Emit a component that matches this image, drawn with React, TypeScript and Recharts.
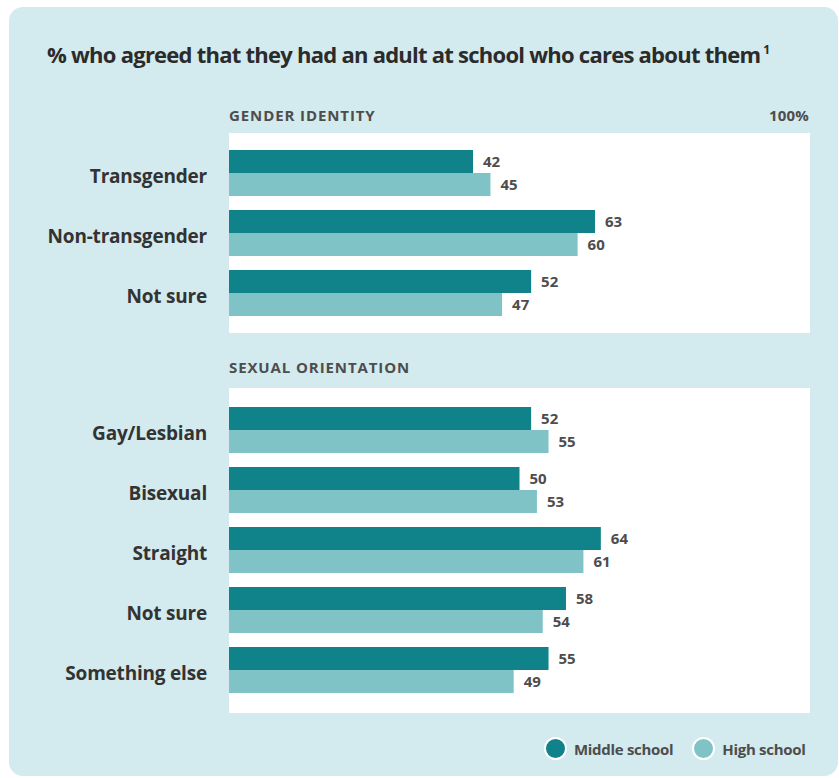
import React from "react"
import { BarChart, Bar, XAxis, YAxis, CartesianGrid, LabelList } from "recharts"

const genderCategories = ["Transgender", "Non-transgender", "Not sure"]
const genderMiddle = [42, 63, 52]
const genderHigh = [45, 60, 47]

const orientationCategories = ["Gay/Lesbian", "Bisexual", "Straight", "Not sure", "Something else"]
const orientationMiddle = [52, 50, 64, 58, 55]
const orientationHigh = [55, 53, 61, 54, 49]

const seriesNames = ["Middle school", "High school"]

const MIDDLE = "#10828a"
const HIGH = "#7fc3c7"
const BG = "#d3eaee"
const TEXT = "#333333"
const LABEL = "#4d4d4d"
const FONT = "'Open Sans', 'Noto Sans', sans-serif"

const build = (cats: string[], mid: number[], high: number[]) =>
  cats.map((name, i) => ({ name, middle: mid[i], high: high[i] }))

const genderData = build(genderCategories, genderMiddle, genderHigh)
const orientationData = build(orientationCategories, orientationMiddle, orientationHigh)

function CategoryTick(props: any) {
  const { x, y, payload } = props
  return (
    <text
      x={x}
      y={y}
      dy={10}
      textAnchor="end"
      fontFamily={FONT}
      fontWeight={700}
      fontSize={19}
      fill={TEXT}
      letterSpacing={-0.2}
    >
      {payload.value}
    </text>
  )
}

function Section({
  data,
  top,
  height,
  padTop,
  padBottom,
}: {
  data: { name: string; middle: number; high: number }[]
  top: number
  height: number
  padTop: number
  padBottom: number
}) {
  const labelStyle = { fontFamily: FONT, fontWeight: 700, fontSize: 15, fill: LABEL }
  return (
    <div style={{ position: "absolute", left: 0, top }}>
      <BarChart
        width={839}
        height={height}
        data={data}
        layout="vertical"
        margin={{ top: 0, right: 29, bottom: 0, left: 0 }}
        barGap={0}
        barSize={23}
      >
        <CartesianGrid fill="#ffffff" horizontal={false} vertical={false} stroke="none" />
        <XAxis type="number" domain={[0, 100]} hide />
        <YAxis
          type="category"
          dataKey="name"
          width={229}
          axisLine={false}
          tickLine={false}
          tickSize={0}
          tickMargin={22}
          padding={{ top: padTop, bottom: padBottom }}
          tick={<CategoryTick />}
          interval={0}
        />
        <Bar dataKey="middle" name={seriesNames[0]} fill={MIDDLE} isAnimationActive={false}>
          <LabelList dataKey="middle" position="right" offset={10} style={labelStyle} />
        </Bar>
        <Bar dataKey="high" name={seriesNames[1]} fill={HIGH} isAnimationActive={false}>
          <LabelList dataKey="high" position="right" offset={10} style={labelStyle} />
        </Bar>
      </BarChart>
    </div>
  )
}

const headerStyle: React.CSSProperties = {
  position: "absolute",
  fontFamily: FONT,
  fontWeight: 700,
  fontSize: 15,
  color: LABEL,
  letterSpacing: 0.9,
  lineHeight: 1,
}

export default function App() {
  return (
    <div style={{ position: "relative", width: 839, height: 778, background: "#ffffff", overflow: "hidden" }}>
      <style>{`body{margin:0}`}</style>
      <div
        style={{
          position: "absolute",
          left: 9,
          top: 7,
          width: 829,
          height: 769,
          background: BG,
          borderRadius: 14,
        }}
      />
      <div
        style={{
          position: "absolute",
          left: 47,
          top: 43,
          fontFamily: FONT,
          fontWeight: 700,
          fontSize: 22,
          color: "#2b2b2b",
          letterSpacing: -0.75,
          lineHeight: 1,
          whiteSpace: "nowrap",
        }}
      >
        % who agreed that they had an adult at school who cares about them
        <sup style={{ fontSize: 12, marginLeft: 3, verticalAlign: 9 }}>1</sup>
      </div>

      <div style={{ ...headerStyle, left: 229, top: 108 }}>GENDER IDENTITY</div>
      <div style={{ ...headerStyle, right: 30, top: 108, letterSpacing: 0.2 }}>100%</div>
      <div style={{ ...headerStyle, left: 229, top: 360 }}>SEXUAL ORIENTATION</div>

      <Section data={genderData} top={133} height={200} padTop={10} padBottom={10} />
      <Section data={orientationData} top={388} height={325} padTop={12} padBottom={13} />

      <div
        style={{
          position: "absolute",
          left: 544,
          top: 737,
          display: "flex",
          alignItems: "center",
          fontFamily: FONT,
          fontWeight: 700,
          fontSize: 15,
          color: LABEL,
          letterSpacing: -0.3,
        }}
      >
        {seriesNames.map((s, i) => (
          <div key={s} style={{ display: "flex", alignItems: "center", marginRight: i === 0 ? 19 : 0 }}>
            <span
              style={{
                width: 23,
                height: 23,
                borderRadius: "50%",
                background: i === 0 ? MIDDLE : HIGH,
                border: "2px solid #ffffff",
                boxSizing: "border-box",
                marginRight: 7,
              }}
            />
            <span>{s}</span>
          </div>
        ))}
      </div>
    </div>
  )
}
